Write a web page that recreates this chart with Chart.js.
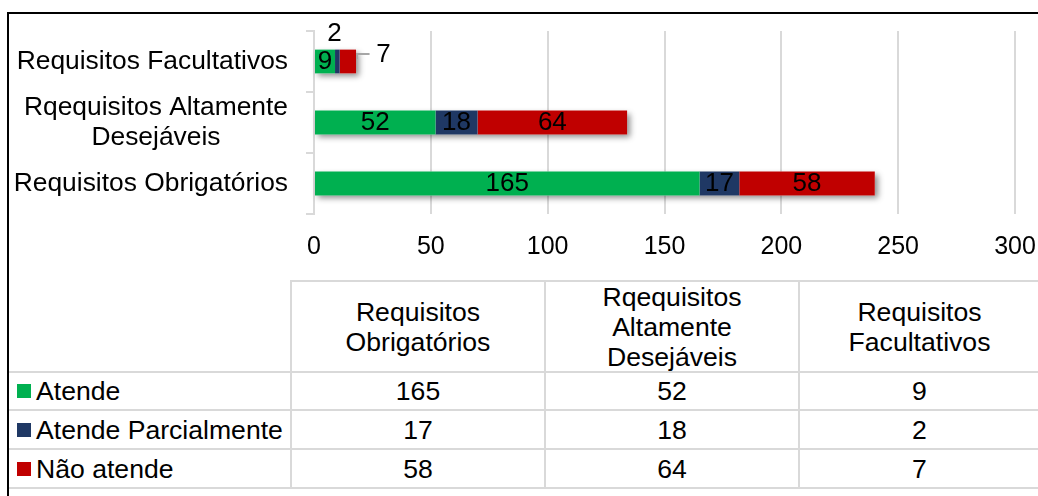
<!DOCTYPE html>
<html><head><meta charset="utf-8">
<script src="https://cdn.jsdelivr.net/npm/chart.js@4.4.0/dist/chart.umd.min.js"></script>
<style>
html,body{margin:0;padding:0;background:#fff;width:1038px;height:496px;overflow:hidden;font-family:"Liberation Sans",Arial,sans-serif;}
#frame{position:absolute;left:7px;top:12px;width:1100px;height:600px;border-left:2px solid #000;border-top:2px solid #000;}
#c{position:absolute;left:0;top:0;}
.cell{position:absolute;display:flex;align-items:center;justify-content:center;text-align:center;font-size:26.6px;color:#000;line-height:30px;white-space:nowrap;}
.leg{justify-content:flex-start;padding-left:8px;box-sizing:border-box;}
.sq{display:inline-block;width:14px;height:14px;margin-right:5px;}
.hl{position:absolute;height:2px;background:#d9d9d9;}
.vl{position:absolute;width:2px;background:#d9d9d9;}
</style></head><body>
<div id="frame"></div>
<canvas id="c" width="1038" height="270"></canvas>
<div id="table"></div>
<script>
// ---- data ----
const categories = ['Requisitos Obrigatórios', 'Rqequisitos Altamente Desejáveis', 'Requisitos Facultativos'];
const axisLabelLines = [['Requisitos Obrigatórios'], ['Rqequisitos Altamente', 'Desejáveis'], ['Requisitos Facultativos']];
const tableHeaderLines = [['Requisitos', 'Obrigatórios'], ['Rqequisitos', 'Altamente', 'Desejáveis'], ['Requisitos', 'Facultativos']];
const seriesNames = ['Atende', 'Atende Parcialmente', 'Não atende'];
const atende = [165, 52, 9];
const atendeParcialmente = [17, 18, 2];
const naoAtende = [58, 64, 7];
const xTicks = [0, 50, 100, 150, 200, 250, 300];

// ---- styles ----
const seriesValues = [atende, atendeParcialmente, naoAtende];
const colors = ['#00B050', '#1F3864', '#C00000'];
const FONT = "'Liberation Sans', Arial, sans-serif";
const labelOverrides = { '1-2': { dx: -3, dy: -28 }, '2-2': { outside: true, gap: 27.5, dy: -6.5 } };

const shadowPlugin = {
  id: 'barShadow',
  beforeDatasetsDraw(chart) {
    const ctx = chart.ctx;
    const m0 = chart.getDatasetMeta(0), mL = chart.getDatasetMeta(seriesValues.length - 1);
    ctx.save();
    ctx.shadowColor = 'rgba(0,0,0,0.45)';
    ctx.shadowBlur = 6; ctx.shadowOffsetX = 3; ctx.shadowOffsetY = 3;
    ctx.fillStyle = '#fff';
    categories.forEach((c, j) => {
      const a = m0.data[j].getProps(['base', 'y', 'height'], true);
      const b = mL.data[j].getProps(['x'], true);
      ctx.fillRect(a.base, a.y - a.height / 2, b.x - a.base, a.height);
    });
    ctx.restore();
  }
};

const labelPlugin = {
  id: 'labels',
  afterDatasetsDraw(chart) {
    const ctx = chart.ctx;
    ctx.save();
    ctx.font = '26px ' + FONT;
    ctx.fillStyle = '#000';
    ctx.textAlign = 'center';
    ctx.textBaseline = 'middle';
    seriesValues.forEach((vals, i) => {
      const meta = chart.getDatasetMeta(i);
      vals.forEach((v, j) => {
        const p = meta.data[j].getProps(['x', 'y', 'base'], true);
        let cx = (p.base + p.x) / 2, cy = p.y;
        const o = labelOverrides[i + '-' + j];
        if (o && o.outside) {
          const lx = p.x + o.gap, ly = cy + o.dy;
          ctx.save();
          ctx.strokeStyle = '#a6a6a6'; ctx.lineWidth = 2;
          ctx.beginPath();
          ctx.moveTo(p.x + 1, ly + 4); ctx.lineTo(p.x + 1, ly - 1); ctx.lineTo(lx - 14, ly - 1);
          ctx.stroke();
          ctx.restore();
          cx = lx; cy = ly;
        } else if (o) { cx += o.dx; cy += o.dy; }
        ctx.fillText(String(v), cx, cy);
      });
    });
    ctx.restore();
  },
  afterDraw(chart) {
    const ctx = chart.ctx, ys = chart.scales.y;
    ctx.save();
    ctx.font = '26.4px ' + FONT;
    ctx.fillStyle = '#000';
    ctx.textAlign = 'center';
    ctx.textBaseline = 'middle';
    axisLabelLines.forEach((lines, j) => {
      const w = Math.max(...lines.map(l => ctx.measureText(l).width));
      const right = ys.right - 26;
      const cx = right - w / 2;
      const cy = ys.getPixelForValue(j);
      lines.forEach((l, k) => ctx.fillText(l, cx, cy + (k - (lines.length - 1) / 2) * 30));
    });
    ctx.restore();
  }
};

new Chart(document.getElementById('c'), {
  type: 'bar',
  data: {
    labels: categories,
    datasets: seriesNames.map((n, i) => ({
      label: n, data: seriesValues[i], backgroundColor: colors[i], borderWidth: 0,
      categoryPercentage: 1, barPercentage: 0.39
    }))
  },
  options: {
    indexAxis: 'y', responsive: false, animation: false, devicePixelRatio: 1,
    layout: { padding: { top: 31, right: 23, left: 0, bottom: 0 } },
    plugins: { legend: { display: false }, tooltip: { enabled: false } },
    scales: {
      x: {
        stacked: true, min: 0, max: 300,
        afterBuildTicks(s) { s.ticks = xTicks.map(v => ({ value: v })); },
        ticks: { font: { family: FONT, size: 25 }, color: '#000', padding: 18, maxRotation: 0, callback: v => String(v) },
        grid: { color: '#d9d9d9', lineWidth: 2, drawTicks: false },
        border: { display: false },
        afterFit(s) { s.height = 56; s.paddingLeft = 0; s.paddingRight = 0; }
      },
      y: {
        stacked: true, reverse: true,
        ticks: { display: false },
        grid: { drawOnChartArea: false, drawTicks: true, tickLength: 8, color: '#d9d9d9', lineWidth: 2, offset: true },
        border: { display: true, color: '#d9d9d9', width: 2 },
        afterFit(s) { s.width = 314; s.paddingTop = 0; s.paddingBottom = 0; }
      }
    }
  },
  plugins: [shadowPlugin, labelPlugin]
});

// ---- data table ----
const colX = [9, 291, 545, 799, 1040];
const rowY = [281, 372, 410, 449, 488];
const tbl = document.getElementById('table');
function add(cls, css, html) {
  const d = document.createElement('div');
  d.className = cls;
  Object.assign(d.style, css);
  if (html !== undefined) d.innerHTML = html;
  tbl.appendChild(d);
  return d;
}
tableHeaderLines.forEach((lines, c) => {
  add('cell', { left: colX[c + 1] + 'px', top: rowY[0] + 'px', width: (colX[c + 2] - colX[c + 1]) + 'px', height: (rowY[1] - rowY[0]) + 'px' }, lines.join('<br>'));
});
seriesNames.forEach((name, s) => {
  add('cell leg', { left: colX[0] + 'px', top: rowY[s + 1] + 'px', width: (colX[1] - colX[0]) + 'px', height: (rowY[s + 2] - rowY[s + 1]) + 'px' },
    '<span class="sq" style="background:' + colors[s] + '"></span>' + name);
  seriesValues[s].forEach((v, c) => {
    add('cell', { left: colX[c + 1] + 'px', top: rowY[s + 1] + 'px', width: (colX[c + 2] - colX[c + 1]) + 'px', height: (rowY[s + 2] - rowY[s + 1]) + 'px' }, String(v));
  });
});
rowY.forEach((y, r) => {
  const x0 = r === 0 ? colX[1] - 1 : colX[0];
  add('hl', { left: x0 + 'px', top: (y - 1) + 'px', width: (colX[4] - x0) + 'px' });
});
[1, 2, 3].forEach(c => {
  add('vl', { left: (colX[c] - 1) + 'px', top: (rowY[0] - 1) + 'px', height: (rowY[4] - rowY[0] + 2) + 'px' });
});
</script>
</body></html>
